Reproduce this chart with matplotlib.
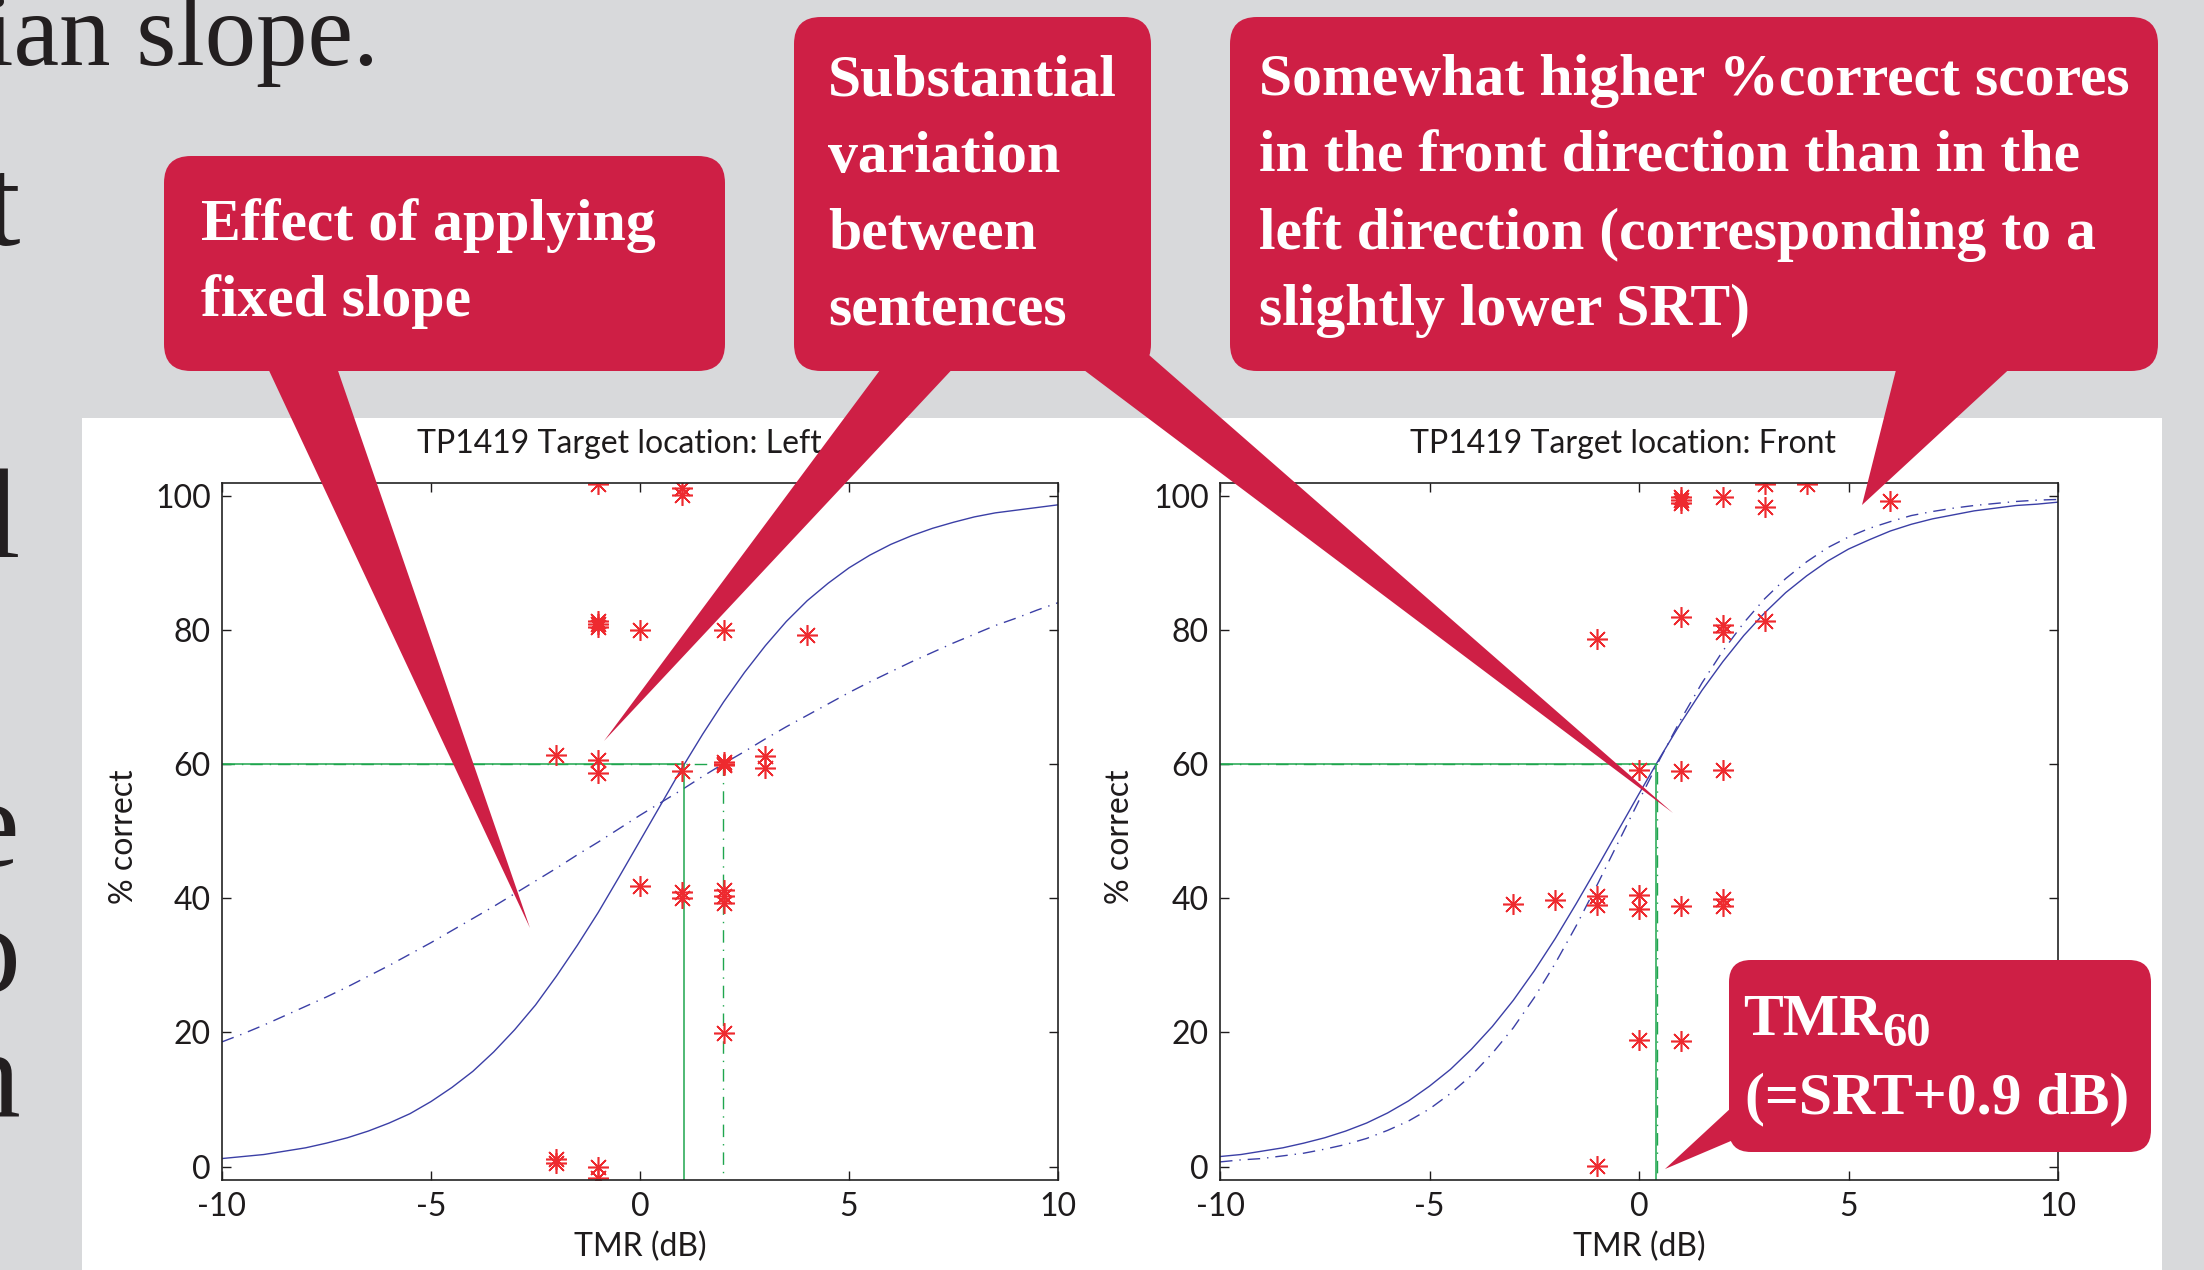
import matplotlib
matplotlib.use("Agg")
import matplotlib.pyplot as plt
from matplotlib.patches import FancyBboxPatch, Polygon, Rectangle

plt.rcParams['font.family'] = ['Lato', 'DejaVu Sans']

# ---------------- data ----------------
tmr_grid = [-10, -9.5, -9, -8.5, -8, -7.5, -7, -6.5, -6, -5.5, -5, -4.5, -4, -3.5, -3,
            -2.5, -2, -1.5, -1, -0.5, 0, 0.5, 1, 1.5, 2, 2.5, 3, 3.5, 4, 4.5, 5,
            5.5, 6, 6.5, 7, 7.5, 8, 8.5, 9, 9.5, 10]

left_fit_solid = [1.2, 1.5, 1.8, 2.3, 2.8, 3.5, 4.3, 5.3, 6.5, 7.9, 9.7, 11.8, 14.2, 17.1,
                  20.4, 24.1, 28.4, 33.0, 37.9, 43.2, 48.6, 54.0, 59.4, 64.5, 69.3, 73.7,
                  77.7, 81.3, 84.4, 87.0, 89.3, 91.2, 92.8, 94.1, 95.2, 96.1, 96.9, 97.5,
                  97.9, 98.3, 98.7]
left_fit_dashdot = [18.6, 19.8, 21.1, 22.5, 23.9, 25.3, 26.8, 28.4, 30.0, 31.7, 33.4, 35.2,
                    37.0, 38.8, 40.7, 42.6, 44.5, 46.5, 48.4, 50.4, 52.4, 54.3, 56.2, 58.2,
                    60.1, 61.9, 63.8, 65.6, 67.3, 69.0, 70.7, 72.3, 73.8, 75.3, 76.7, 78.1,
                    79.4, 80.7, 81.8, 83.0, 84.1]
front_fit_solid = [1.5, 1.8, 2.3, 2.8, 3.5, 4.3, 5.3, 6.5, 8.0, 9.8, 12.0, 14.5, 17.5, 20.9,
                   24.8, 29.2, 34.0, 39.2, 44.6, 50.1, 55.6, 61.0, 66.2, 71.0, 75.3, 79.2,
                   82.6, 85.6, 88.1, 90.3, 92.1, 93.5, 94.8, 95.8, 96.6, 97.2, 97.8, 98.2,
                   98.6, 98.8, 99.1]
front_fit_dashdot = [0.7, 1.0, 1.2, 1.6, 2.0, 2.6, 3.3, 4.2, 5.4, 6.8, 8.6, 10.9, 13.6, 16.9,
                     20.7, 25.2, 30.3, 35.9, 42.0, 48.3, 54.6, 60.8, 66.7, 72.1, 76.9, 81.1,
                     84.7, 87.7, 90.2, 92.3, 93.9, 95.2, 96.2, 97.1, 97.7, 98.2, 98.6, 98.9,
                     99.2, 99.4, 99.5]

left_pts_x = [-1, 1, 1, -1, -1, -1, 0, 2, 4, -2, -1, -1, 1, 2, 2, 2, 3, 3,
              0, 1, 1, 2, 2, 2, 2, -2, -2, -1, -1]
left_pts_y = [101.8, 101.2, 100.2, 81.3, 80.9, 80.5, 80.0, 80.1, 79.3, 61.4, 60.6, 58.7,
              59.0, 60.4, 59.9, 60.1, 61.2, 59.4, 41.8, 41.0, 40.0, 41.3, 40.3, 39.3,
              19.9, 1.2, 0.5, 0.0, -1.7]

front_pts_x = [1, 1, 1, 2, 3, 3, 4, 6, -1, 1, 2, 2, 3, 0, 1, 2, -3, -2, -1, -1,
               0, 0, 1, 2, 2, 0, 1, -1]
front_pts_y = [99.9, 99.4, 98.9, 99.8, 101.8, 98.4, 101.8, 99.3, 78.7, 81.9, 80.8, 79.8,
               81.4, 59.1, 59.0, 59.1, 39.2, 39.8, 40.3, 39.0, 40.5, 38.4, 38.9, 39.9,
               38.9, 18.9, 18.8, 0.1]

left_tmr60 = [1.06, 1.99]      # solid fit, dash-dot fit
front_tmr60 = [0.40, 0.43]
criterion = 60

xticks = [-10, -5, 0, 5, 10]
yticks = [0, 20, 40, 60, 80, 100]
titles = ["TP1419 Target location: Left", "TP1419 Target location: Front"]
xlabel = "TMR (dB)"
ylabel = "% correct"

callout1 = ["Effect of applying", "fixed slope"]
callout2 = ["Substantial", "variation", "between", "sentences"]
callout3 = ["Somewhat higher %correct scores", "in the front direction than in the",
            "left direction (corresponding to a", "slightly lower SRT)"]
callout4_main, callout4_sub, callout4_line2 = "TMR", "60", "(=SRT+0.9 dB)"

# ---------------- styling ----------------
W, H = 2204, 1270
GRAY = '#d8d9db'
CRIMSON = '#ce1f45'
BLUE = '#3b3fa6'
RED = '#ee2a2f'
GREEN = '#1fa64e'
INK = '#1e1b1c'
DASHDOT = (0, (9, 5, 1, 5))
SERIF = ['Liberation Serif', 'DejaVu Serif']

fig = plt.figure(figsize=(W / 100, H / 100), dpi=100, facecolor=GRAY)

# background layer (slide behind)
bg = fig.add_axes([0, 0, 1, 1], zorder=-10)
bg.set_xlim(0, W); bg.set_ylim(H, 0); bg.axis('off')
bg.add_patch(Rectangle((82, 418), 2162 - 82, H - 418 + 10, facecolor='white', edgecolor='none'))
bg.text(-15, 65, "ian slope.", fontsize=74, family=SERIF, color='#231f20', ha='left', va='baseline')
for ch, yb in [("t", 245), ("l", 557), ("e", 866), ("o", 992), ("n", 1117)]:
    bg.text(20, yb, ch, fontsize=92, family=SERIF, color='#231f20', ha='right', va='baseline')


def make_axes(left_px, width_px, title, title_x, fit_solid, fit_dd, px, py, t60, ylab_x):
    ax = fig.add_axes([left_px / W, 1 - 1180 / H, width_px / W, 697.3 / H], zorder=0)
    ax.set_facecolor('white')
    ax.plot(tmr_grid, fit_solid, color=BLUE, lw=1.0)
    ax.plot(tmr_grid, fit_dd, color=BLUE, lw=1.0, linestyle=DASHDOT)
    ax.plot([-10, t60[0], t60[0]], [criterion, criterion, -2], color=GREEN, lw=1.1)
    ax.plot([-10, t60[1], t60[1]], [criterion, criterion, -2], color=GREEN, lw=1.0, linestyle=DASHDOT)
    ax.plot(px, py, linestyle='none', marker=(8, 2, 0), ms=15, mew=1.15, color=RED, mec=RED)
    ax.set_xlim(-10, 10)
    ax.set_ylim(-2, 102)
    ax.set_xticks(xticks)
    ax.set_yticks(yticks)
    ax.set_xticklabels([str(v) for v in xticks])
    ax.set_yticklabels([str(v) for v in yticks])
    ax.tick_params(direction='in', length=6.5, width=1.0, top=True, right=True,
                   labelsize=23, colors=INK)
    ax.tick_params(axis='x', pad=9)
    ax.tick_params(axis='y', pad=8)
    for s in ax.spines.values():
        s.set_linewidth(1.2)
        s.set_color('#222222')
    ax.set_xlabel(xlabel, fontsize=23, color=INK)
    ax.xaxis.label.set_va('center')
    ax.xaxis.set_label_coords(0.5, -(1247 - 1180) / 697.3)
    ax.set_ylabel(ylabel, fontsize=23, color=INK)
    ax.yaxis.label.set_va('center')
    ax.yaxis.set_label_coords(ylab_x, 0.493)
    ax.text(title_x, (1180 - 444) / 697.3, title, transform=ax.transAxes,
            ha='center', va='center', fontsize=23, color=INK)
    return ax


axL = make_axes(222, 836, titles[0], 0.475, left_fit_solid, left_fit_dashdot,
                left_pts_x, left_pts_y, left_tmr60, -98 / 836)
axR = make_axes(1220, 838, titles[1], 0.481, front_fit_solid, front_fit_dashdot,
                front_pts_x, front_pts_y, front_tmr60, -100 / 838)

# ---------------- callouts overlay ----------------
ov = fig.add_axes([0, 0, 1, 1], zorder=10)
ov.set_xlim(0, W); ov.set_ylim(H, 0); ov.axis('off')
ov.patch.set_alpha(0)


def box(x0, y0, x1, y1, r):
    ov.add_patch(FancyBboxPatch((x0, y0), x1 - x0, y1 - y0,
                                boxstyle=f"round,pad=0,rounding_size={r}",
                                facecolor=CRIMSON, edgecolor='none'))


def tail(pts):
    ov.add_patch(Polygon(pts, closed=True, facecolor=CRIMSON, edgecolor='none'))


box(164, 156, 725, 371, 27)
tail([(265, 362), (335, 362), (530, 928)])
box(794, 17, 1151, 371, 27)
tail([(886, 362), (959, 362), (604, 741)])
tail([(1068, 358), (1125, 334), (1673, 813)])
box(1230, 17, 2158, 371, 27)
tail([(1898, 362), (2017, 362), (1862, 505)])
box(1729, 960, 2151, 1152, 22)
tail([(1745, 1095), (1745, 1135), (1665, 1169)])

CFS = 43
txt_kw = dict(color='white', fontweight='bold', family=SERIF, va='baseline', ha='left')
for line, yb in zip(callout1, [240, 316]):
    ov.text(201, yb, line, fontsize=CFS, **txt_kw)
for line, yb in zip(callout2, [95, 172, 249, 325]):
    ov.text(828, yb, line, fontsize=CFS, **txt_kw)
for line, yb in zip(callout3, [95, 172, 249, 325]):
    ov.text(1259, yb, line, fontsize=CFS, **txt_kw)
ov.text(1743, 1035, callout4_main, fontsize=CFS, **txt_kw)
ov.text(1882, 1046, callout4_sub, fontsize=35, **txt_kw)
ov.text(1745, 1113, callout4_line2, fontsize=CFS, **txt_kw)

fig.savefig("out.png", dpi=100)
